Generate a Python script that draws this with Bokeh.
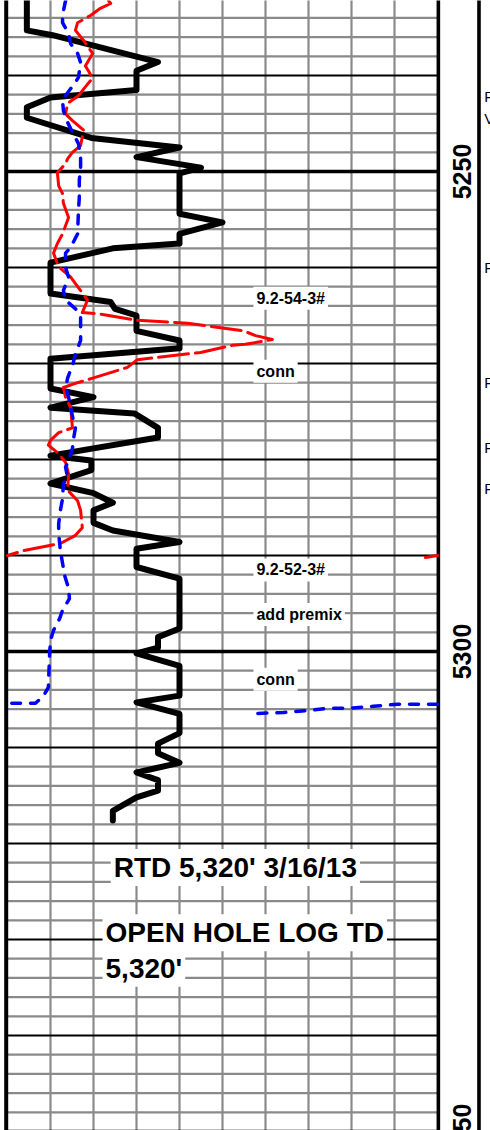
import numpy as np
from bokeh.plotting import figure
from bokeh.models import Range1d, Label
from bokeh.core.properties import value
from bokeh.embed import file_html
from bokeh.resources import INLINE

# ---------------- data (chart divisions 0-10, depth in ft) ----------------
rop_depth = [5232.0, 5235.3, 5235.8, 5238.6, 5239.5, 5241.5, 5242.3, 5243.3, 5244.4,
             5246.5, 5247.5, 5248.5, 5249.6, 5250.2, 5254.4, 5255.3, 5256.5, 5257.5,
             5258.0, 5259.5, 5262.7, 5263.6, 5264.3, 5265.0, 5266.6, 5267.6, 5268.4,
             5269.5, 5272.6, 5273.5, 5274.6, 5275.2, 5276.7, 5277.7, 5279.6, 5280.1,
             5281.1, 5282.5, 5283.5, 5284.5, 5285.3, 5286.6, 5287.4, 5288.6, 5289.3,
             5291.2, 5292.4, 5297.6, 5298.5, 5299.6, 5300.2, 5301.5, 5304.6, 5305.3,
             5306.5, 5308.5, 5309.6, 5310.6, 5311.6, 5312.6, 5313.4, 5314.5, 5315.2,
             5316.6, 5317.6]
rop_value = [0.45, 0.45, 1.05, 3.5, 3.0, 3.0, 1.0, 0.45, 0.45,
             1.95, 4.0, 3.0, 4.5, 4.0, 4.0, 5.0, 4.0, 4.0,
             2.45, 1.0, 1.0, 2.4, 2.5, 3.0, 3.0, 4.0, 4.0,
             1.0, 1.0, 2.0, 1.0, 2.95, 3.5, 3.5, 1.0, 1.95,
             1.95, 1.0, 2.0, 2.45, 2.0, 2.0, 2.45, 4.0, 3.0,
             3.0, 4.0, 4.0, 3.5, 3.5, 3.0, 4.0, 4.0, 3.0,
             4.0, 4.0, 3.5, 3.5, 4.0, 3.0, 3.5, 3.5, 3.0,
             2.45, 2.45]

gas_depth = [5232.2, 5232.5, 5233.0, 5233.75, 5234.5, 5235.3, 5236.35, 5237.7, 5239.0,
             5239.5, 5240.3, 5240.8, 5242.1, 5242.9, 5244.0, 5244.7, 5245.7, 5247.3,
             5248.0, 5248.65, 5249.2, 5250.1, 5251.5, 5252.3, 5253.3, 5254.8, 5256.5,
             5257.5, 5258.5, 5259.6, 5260.1, 5261.0, 5262.4, 5263.4, 5264.7, 5264.8,
             5265.5, 5265.8, 5266.6, 5267.1, 5267.5, 5268.0, 5268.1, 5268.85, 5269.6,
             5270.4, 5271.5, 5272.0, 5272.5, 5273.5, 5274.6, 5276.7, 5277.2, 5278.0,
             5278.5, 5279.4, 5280.3, 5281.5, 5283.2, 5284.3, 5285.3, 5287.1, 5287.9,
             5288.75, 5289.5, 5290.0]
gas_value = [2.35, 2.4, 2.16, 1.93, 1.63, 1.58, 1.77, 1.98, 1.81,
             1.88, 1.98, 1.88, 1.65, 1.4, 1.35, 1.51, 1.77, 1.7,
             1.51, 1.4, 1.35, 1.16, 1.19, 1.28, 1.3, 1.42, 1.28,
             1.16, 1.07, 1.16, 1.23, 1.47, 1.7, 1.86, 1.74, 2.09,
             3.02, 4.19, 5.49, 5.77, 6.16, 5.53, 5.23, 4.49, 3.02,
             2.79, 2.0, 1.63, 1.3, 1.35, 1.47, 1.51, 1.19, 1.0,
             0.95, 1.19, 1.35, 1.42, 1.4, 1.63, 1.7, 1.74, 1.58,
             1.23, 0.37, 0.0]
gas_wrap_depth = [5290.0, 5290.2]
gas_wrap_value = [10.0, 9.72]

blue_depth = [5232.2, 5233.75, 5234.5, 5235.6, 5236.7, 5237.7, 5238.65, 5240.2, 5240.7,
              5242.1, 5242.6, 5243.65, 5244.9, 5245.9, 5247.1, 5248.5, 5249.6, 5250.9,
              5252.7, 5254.1, 5256.5, 5257.9, 5258.5, 5260.0, 5261.0, 5262.4, 5263.4,
              5264.5, 5265.2, 5267.6, 5269.0, 5269.9, 5271.5, 5272.5, 5273.5, 5274.6,
              5275.9, 5276.7, 5278.0, 5278.85, 5280.3, 5280.8, 5281.9, 5282.5, 5284.1,
              5285.3, 5286.7, 5287.7, 5289.5, 5292.1, 5293.4, 5294.5, 5295.7, 5296.6,
              5297.8, 5298.85, 5300.2, 5303.75, 5304.6, 5305.4, 5305.4]
blue_value = [1.35, 1.28, 1.28, 1.42, 1.47, 1.63, 1.7, 1.65, 1.58,
              1.35, 1.28, 1.3, 1.4, 1.51, 1.65, 1.7, 1.7, 1.67,
              1.67, 1.65, 1.63, 1.47, 1.35, 1.35, 1.42, 1.3, 1.35,
              1.63, 1.7, 1.7, 1.58, 1.53, 1.4, 1.35, 1.42, 1.47,
              1.53, 1.58, 1.53, 1.51, 1.4, 1.35, 1.4, 1.3, 1.28,
              1.23, 1.19, 1.19, 1.23, 1.33, 1.42, 1.44, 1.28, 1.21,
              1.07, 1.0, 0.98, 0.95, 0.84, 0.65, 0.1]
blue_wrap_depth = [5305.5, 5305.5, 5305.7, 5305.9, 5305.9, 5306.15, 5306.35, 5306.45]
blue_wrap_value = [10.0, 9.07, 8.51, 7.98, 7.51, 6.98, 6.42, 5.81]

depth_tick_labels = ["5250", "5300", "5350"]
depth_ticks = [5250, 5300, 5350]

note_texts = ["9.2-54-3#", "conn", "9.2-52-3#", "add premix", "conn"]
note_depths = [5263.2, 5270.8, 5291.5, 5296.15, 5302.9]

td_texts = ["RTD 5,320' 3/16/13", "OPEN HOLE LOG TD", "5,320'"]
td_depths = [5322.5, 5329.3, 5333.0]

side_texts = ["P", "V", "P", "P", "P", "P"]
side_depths = [5242.2, 5244.5, 5260.0, 5272.0, 5278.8, 5283.0]

# ---------------- figure ----------------
W, H = 490, 1130
p = figure(width=W, height=H,
           x_range=Range1d(-7 / 43, 483 / 43),
           y_range=Range1d(5349.896, 5232.1875),
           output_backend="svg", toolbar_location=None,
           x_axis_type=None, y_axis_type=None,
           min_border=0, outline_line_color=None,
           background_fill_color="white", border_fill_color="white")

top_d, bot_d = 5228, 5356
GRAY = "#8a8a8a"

# vertical grid lines
vx = np.arange(1, 10)
p.segment(x0=vx, y0=[top_d] * len(vx), x1=vx, y1=[bot_d] * len(vx),
          line_color=GRAY, line_width=2.2)

# horizontal minor grid lines
hd = [d for d in np.arange(5230, 5356, 2) if d % 10 != 0]
p.segment(x0=[0] * len(hd), y0=hd, x1=[10] * len(hd), y1=hd,
          line_color=GRAY, line_width=2.2)

# major lines
md = [d for d in np.arange(5230, 5356, 10) if d % 50 != 0]
p.segment(x0=[0] * len(md), y0=md, x1=[10] * len(md), y1=md,
          line_color="black", line_width=2.2)
bd = [5250, 5300, 5350]
p.segment(x0=[0] * len(bd), y0=bd, x1=[10] * len(bd), y1=bd,
          line_color="black", line_width=3.6)

# borders
p.segment(x0=[-0.03, 10.02, 10.965], y0=[top_d] * 3, x1=[-0.03, 10.02, 10.965], y1=[bot_d] * 3,
          line_color="black", line_width=[4, 3.6, 3.6])

# depth labels
p.text(x=[10.56] * len(depth_ticks), y=depth_ticks, text=depth_tick_labels,
       angle=np.pi / 2, text_align="center", text_baseline="middle",
       text_font=value("'Liberation Sans Narrow', 'Arial Narrow', 'Liberation Sans'"),
       text_font_style="bold", text_font_size="25px", text_color="black")

# clipped text column on the right edge
p.text(x=[11.09] * len(side_depths), y=side_depths, text=side_texts,
       text_align="left", text_baseline="middle",
       text_font=value("Liberation Sans"), text_font_size="15px", text_color="black")

# curves
p.line(rop_value, rop_depth, line_color="black", line_width=6,
       line_join="round", line_cap="round")
p.line(gas_value, gas_depth, line_color="#ff0000", line_width=3,
       line_dash="30 7", line_join="round", line_cap="round")
p.line(gas_wrap_value, gas_wrap_depth, line_color="#ff0000", line_width=3, line_cap="round")
p.line(blue_value, blue_depth, line_color="#0000ff", line_width=3.5,
       line_dash="9 10", line_join="round", line_cap="round")
p.line(blue_wrap_value, blue_wrap_depth, line_color="#0000ff", line_width=3.5,
       line_dash="9 10", line_join="round", line_cap="round")

# notes
for t, d in zip(note_texts, note_depths):
    p.add_layout(Label(x=5.72, y=d, text=t, text_align="left", text_baseline="middle",
                       text_font="Liberation Sans", text_font_style="bold",
                       text_font_size="16px", text_color="black",
                       background_fill_color="white", padding=3))

td_x = [2.4, 2.21, 2.21]
td_size = ["28px", "28px", "28px"]
for t, d, x, s in zip(td_texts, td_depths, td_x, td_size):
    p.add_layout(Label(x=x, y=d, text=t, text_align="left", text_baseline="middle",
                       text_font="Liberation Sans", text_font_style="bold",
                       text_font_size=s, text_color="black",
                       background_fill_color="white", padding=3))

open("out.html", "w").write(file_html(p, INLINE))
